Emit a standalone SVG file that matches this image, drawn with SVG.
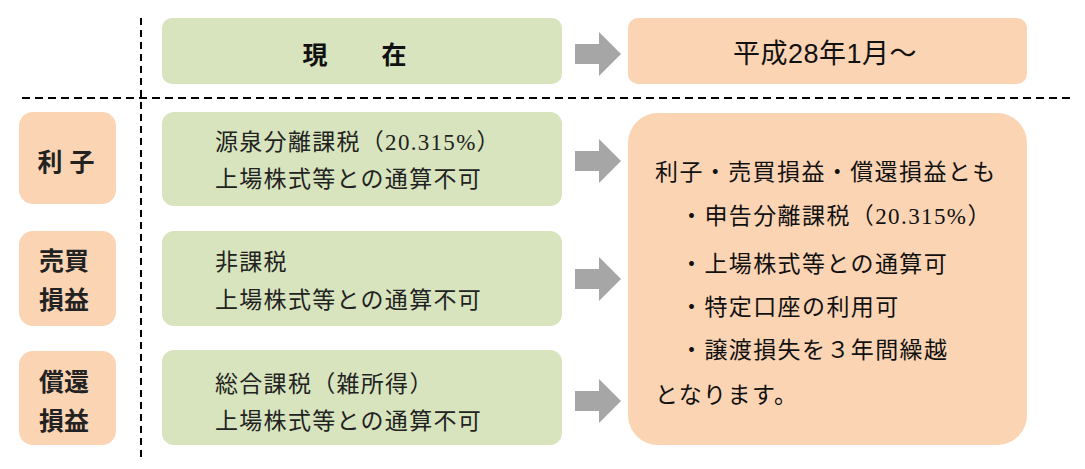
<svg xmlns="http://www.w3.org/2000/svg" width="1085" height="469" viewBox="0 0 1085 469">
<style>
.green{fill:#D7E4BD}
.orange{fill:#FBD4B4}
.arrow{fill:#A6A6A6}
.dash{stroke:#000;stroke-width:2;fill:none}
.head{font-family:"Liberation Sans","Noto Sans CJK JP",sans-serif;font-size:25px;fill:#111;text-anchor:middle}
.head2{font-family:"Liberation Sans","Noto Sans CJK JP",sans-serif;font-size:27px;letter-spacing:0.5px;fill:#111;text-anchor:middle}
.lbl{font-family:"Liberation Sans","Noto Sans CJK JP",sans-serif;font-size:25px;font-weight:bold;fill:#222;text-anchor:middle}
.min{font-family:"Liberation Serif","Noto Sans CJK JP",serif;font-size:23px;letter-spacing:1.3px;fill:#222}
.big{font-family:"Liberation Serif","Noto Sans CJK JP",serif;font-size:23px;letter-spacing:1.4px;fill:#111}
</style>
<rect width="1085" height="469" fill="#fff"/>
<g id="grid">
<line class="dash" x1="141" y1="18" x2="141" y2="460" stroke-dasharray="7 5"/>
<line class="dash" x1="22" y1="98" x2="1070" y2="98" stroke-dasharray="8 5"/>
</g>
<g id="now">
<rect class="green" x="162" y="18" width="400" height="66" rx="10"/>
<text class="head" font-weight="bold" y="64"><tspan x="315">現</tspan><tspan x="394">在</tspan></text>
</g>
<g id="future">
<rect class="orange" x="628" y="18" width="399" height="66" rx="10"/>
<text class="head2" x="825" y="63">平成28年1月～</text>
</g>
<g id="label-interest">
<rect class="orange" x="19" y="112" width="97" height="92" rx="14"/>
<text class="lbl" x="66" y="171">利 子</text>
</g>
<g id="label-trade">
<rect class="orange" x="19" y="231" width="97" height="95" rx="14"/>
<text class="lbl" x="64" y="270">売買</text>
<text class="lbl" x="64" y="309">損益</text>
</g>
<g id="label-redeem">
<rect class="orange" x="19" y="351" width="97" height="94" rx="14"/>
<text class="lbl" x="64" y="391">償還</text>
<text class="lbl" x="64" y="430">損益</text>
</g>
<g id="now-interest">
<rect class="green" x="162" y="112" width="400" height="94" rx="12"/>
<text class="min" x="215" y="150">源泉分離課税（20.315%）</text>
<text class="min" x="215" y="187">上場株式等との通算不可</text>
</g>
<g id="now-trade">
<rect class="green" x="162" y="231" width="400" height="95" rx="12"/>
<text class="min" x="215" y="270">非課税</text>
<text class="min" x="215" y="308">上場株式等との通算不可</text>
</g>
<g id="now-redeem">
<rect class="green" x="162" y="350" width="400" height="95" rx="12"/>
<text class="min" x="215" y="392">総合課税（雑所得）</text>
<text class="min" x="215" y="429">上場株式等との通算不可</text>
</g>
<g id="future-all">
<rect class="orange" x="628" y="113" width="399" height="332" rx="30"/>
<text class="big" x="655" y="180">利子・売買損益・償還損益とも</text>
<text class="big" x="680" y="224">・申告分離課税（20.315%）</text>
<text class="big" x="680" y="272">・上場株式等との通算可</text>
<text class="big" x="680" y="315">・特定口座の利用可</text>
<text class="big" x="680" y="358">・譲渡損失を３年間繰越</text>
<text class="big" x="655" y="403">となります。</text>
</g>
<g id="connectors">
<polygon class="arrow" points="575,44 599,44 599,32 621,54 599,76 599,64 575,64"/>
<polygon class="arrow" points="575,151 599,151 599,139 621,161 599,183 599,171 575,171"/>
<polygon class="arrow" points="575,269 599,269 599,257 621,279 599,301 599,289 575,289"/>
<polygon class="arrow" points="575,391 599,391 599,379 621,401 599,423 599,411 575,411"/>
</g>
</svg>
